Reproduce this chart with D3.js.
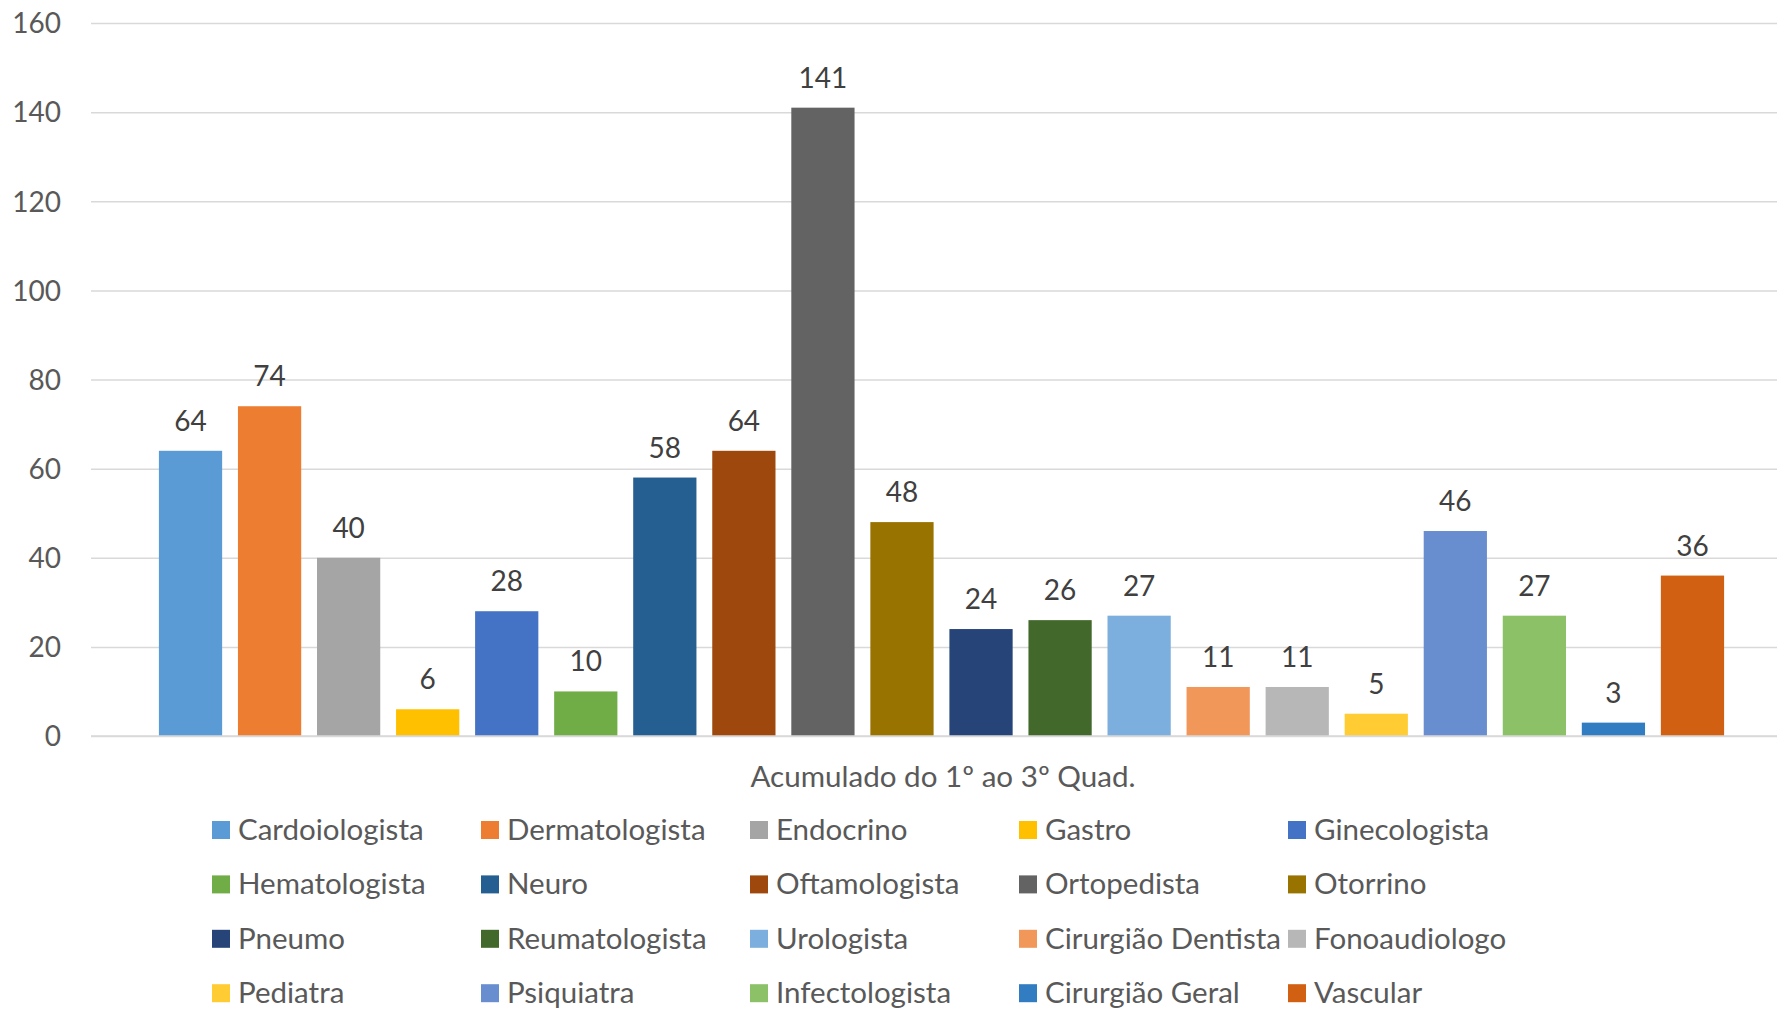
<!DOCTYPE html>
<html>
<head>
<meta charset="utf-8">
<script src="https://cdn.jsdelivr.net/npm/d3@7"></script>
<style>
  html, body { margin: 0; padding: 0; background: #fff; }
  svg { display: block; }
  text { font-family: Lato, "Noto Sans", sans-serif; }
</style>
</head>
<body>
<svg id="chart" width="1777" height="1009"></svg>
<script>
const categories = ["Cardoiologista","Dermatologista","Endocrino","Gastro","Ginecologista",
  "Hematologista","Neuro","Oftamologista","Ortopedista","Otorrino",
  "Pneumo","Reumatologista","Urologista","Cirurgião Dentista","Fonoaudiologo",
  "Pediatra","Psiquiatra","Infectologista","Cirurgião Geral","Vascular"];
const values = [64,74,40,6,28,10,58,64,141,48,24,26,27,11,11,5,46,27,3,36];
const colors = ["#5B9BD5","#ED7D31","#A5A5A5","#FFC000","#4472C4",
  "#70AD47","#255E91","#9E480E","#636363","#997300",
  "#264478","#43682B","#7CAFDD","#F1975A","#B7B7B7",
  "#FFCD33","#698ED0","#8CC168","#327DC2","#D26012"];
const yTicks = [0,20,40,60,80,100,120,140,160];
const axisTitle = "Acumulado do 1º ao 3º Quad.";

const svg = d3.select("#chart");
const plotLeft = 91, plotRight = 1777;
const y = d3.scaleLinear().domain([0,160]).range([736, 23]);
const x = d3.scaleBand().domain(categories).range([151, 1732]).paddingInner(0.2).paddingOuter(0.1);

// gridlines
const yAxis = d3.axisLeft(y).tickValues(yTicks).tickSize(-(plotRight - plotLeft)).tickPadding(30);
const gy = svg.append("g").attr("transform", `translate(${plotLeft},0)`).call(yAxis);
gy.select(".domain").remove();
gy.selectAll(".tick line").attr("stroke", "#d9d9d9").attr("stroke-width", 1.5);
gy.selectAll(".tick text").attr("fill", "#595959").attr("font-size", 28)
  .attr("font-family", "Lato, 'Noto Sans', sans-serif").attr("dy", "0.35em");

// bars
svg.append("g").selectAll("rect").data(values).join("rect")
  .attr("x", (d,i) => x(categories[i]))
  .attr("width", x.bandwidth())
  .attr("y", d => y(d))
  .attr("height", d => y(0) - y(d))
  .attr("fill", (d,i) => colors[i]);

// baseline
svg.append("line").attr("x1", plotLeft).attr("x2", plotRight)
  .attr("y1", y(0)).attr("y2", y(0)).attr("stroke", "#d9d9d9").attr("stroke-width", 1.5);

// data labels
svg.append("g").selectAll("text").data(values).join("text")
  .attr("x", (d,i) => x(categories[i]) + x.bandwidth()/2)
  .attr("y", d => y(d) - 20)
  .attr("text-anchor", "middle")
  .attr("font-size", 28)
  .attr("fill", "#404040")
  .text(d => d);

// axis title
svg.append("text").attr("x", 943).attr("y", 787).attr("text-anchor", "middle")
  .attr("font-size", 29.6).attr("fill", "#595959").text(axisTitle);

// legend
const legX0 = 212, legColStep = 269, legY0 = 830, legRowStep = 54.4;
const leg = svg.append("g").selectAll("g").data(categories).join("g")
  .attr("transform", (d,i) => `translate(${legX0 + (i%5)*legColStep},${legY0 + Math.floor(i/5)*legRowStep})`);
leg.append("rect").attr("x", 0).attr("y", -9).attr("width", 18).attr("height", 18)
  .attr("fill", (d,i) => colors[i]);
leg.append("text").attr("x", 26).attr("y", 10).attr("font-size", 29.5).attr("fill", "#595959")
  .text(d => d);
</script>
</body>
</html>
